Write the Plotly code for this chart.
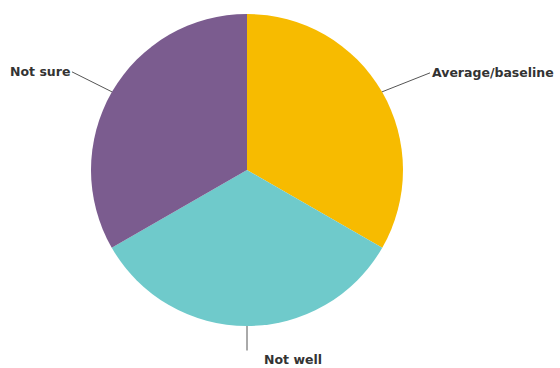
import math
import plotly.graph_objects as go

labels = ["Average/baseline", "Not well", "Not sure"]
values = [33.3, 33.4, 33.3]
colors = ["#F7BB00", "#6FCACB", "#7B5C8F"]

W, H = 560, 368
dom_x = [91 / W, 403 / W]
dom_y = [(H - 326) / H, (H - 14) / H]

fig = go.Figure(go.Pie(
    labels=labels, values=values, sort=False, direction="clockwise", rotation=0,
    marker=dict(colors=colors, line=dict(width=0)),
    textinfo="none", hoverinfo="label+percent", showlegend=False,
    domain=dict(x=dom_x, y=dom_y),
))

cx = (dom_x[0] + dom_x[1]) / 2 * W
cy = H - (dom_y[0] + dom_y[1]) / 2 * H
r = (dom_x[1] - dom_x[0]) * W / 2
total = sum(values)
acc = 0
offsets = {"Average/baseline": (48, -19, "left"), "Not sure": (-40, -20, "right"), "Not well": (0, 26, None)}
font = dict(family="DejaVu Sans, Liberation Sans, Arial", size=12.5, color="#333333")
for lab, v in zip(labels, values):
    mid = (acc + v / 2) / total * 2 * math.pi
    acc += v
    px = cx + r * math.sin(mid)
    py = cy - r * math.cos(mid)
    ax, ay, xa = offsets[lab]
    if xa is None:
        fig.add_annotation(x=px / W, y=1 - py / H, xref="paper", yref="paper",
                           text="", showarrow=True, arrowhead=0, arrowwidth=1,
                           arrowcolor="#555555", ax=ax, ay=ay)
        fig.add_annotation(x=(px + 15) / W, y=1 - (py + 33) / H, xref="paper", yref="paper",
                           text="<b>" + lab + "</b>", showarrow=False, xanchor="left",
                           yanchor="middle", font=font)
    else:
        fig.add_annotation(x=px / W, y=1 - py / H, xref="paper", yref="paper",
                           text="<b>" + lab + "</b>", showarrow=True, arrowhead=0,
                           arrowwidth=1, arrowcolor="#555555", ax=ax, ay=ay,
                           xanchor=xa, font=font)

fig.update_layout(width=W, height=H, margin=dict(l=0, r=0, t=0, b=0),
                  paper_bgcolor="white", plot_bgcolor="white")
fig.write_html("out.html", config={"displayModeBar": False},
               post_script="document.body.style.margin='0';")
